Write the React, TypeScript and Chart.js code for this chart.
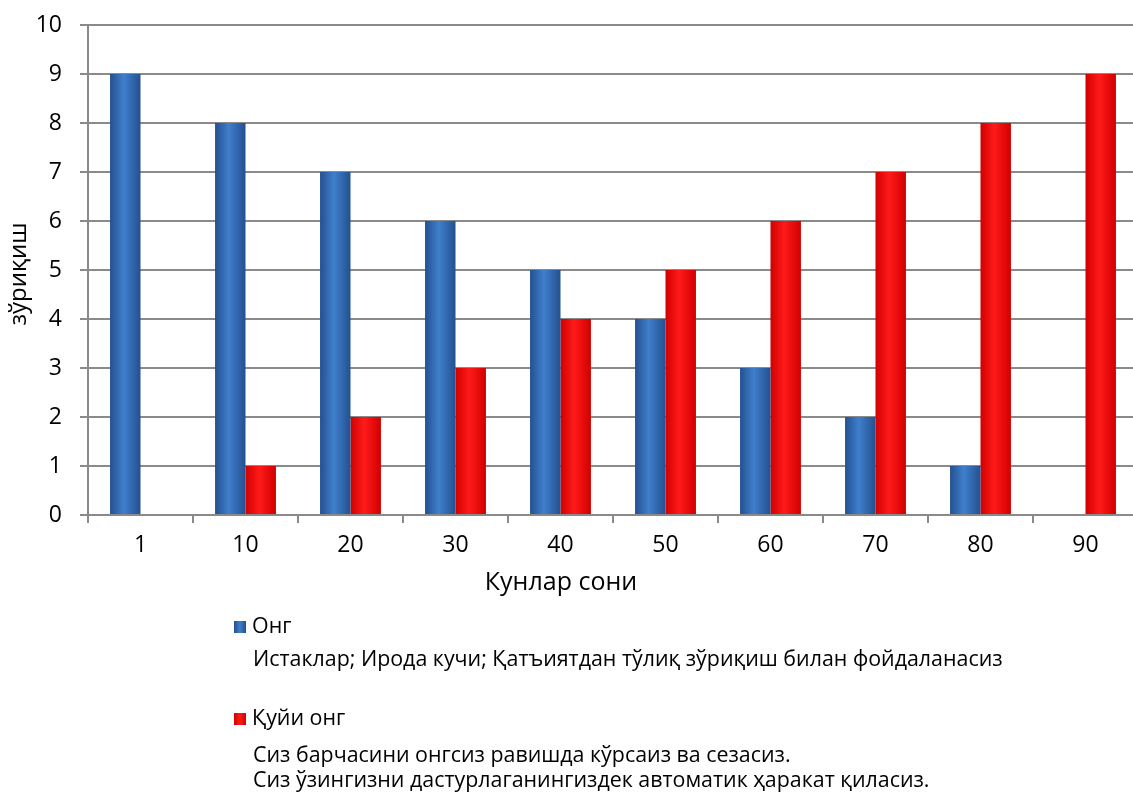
import React, { useEffect, useRef } from "react";
import { Chart, registerables } from "chart.js";

Chart.register(...registerables);

const categories = ["1", "10", "20", "30", "40", "50", "60", "70", "80", "90"];
const ongValues: (number | null)[] = [9, 8, 7, 6, 5, 4, 3, 2, 1, null];
const quyiOngValues: (number | null)[] = [null, 1, 2, 3, 4, 5, 6, 7, 8, 9];
const seriesNames = ["Онг", "Қуйи онг"];
const seriesDescriptions = [
  ["Истаклар; Ирода кучи; Қатъиятдан тўлиқ зўриқиш билан фойдаланасиз"],
  [
    "Сиз барчасини онгсиз равишда кўрсаиз ва сезасиз.",
    "Сиз ўзингизни дастурлаганингиздек автоматик ҳаракат қиласиз.",
  ],
];
const yTitle = "зўриқиш";
const xTitle = "Кунлар сони";

const FONT = "'Open Sans', 'Noto Sans', sans-serif";
const CAT_PCT = 0.58;
const BAR_PCT = 1.0;

const palettes = [
  { edge: "#24508f", mid: "#3f7fcc", solid: "#3469b3" },
  { edge: "#d10000", mid: "#ff1a1a", solid: "#ff0000" },
];

function barGradient(c: any) {
  const pal = palettes[c.datasetIndex] || palettes[0];
  const chart = c.chart;
  const xs = chart.scales && chart.scales.x;
  if (!xs || c.type !== "data" || !isFinite(xs.left) || xs.right <= xs.left) return pal.solid;
  const center = xs.getPixelForValue(c.dataIndex);
  const cw = (xs.right - xs.left) / categories.length;
  const bw = (cw * CAT_PCT * BAR_PCT) / 2;
  const x0 = c.datasetIndex === 0 ? center - bw : center;
  const g = chart.ctx.createLinearGradient(x0, 0, x0 + bw, 0);
  g.addColorStop(0, pal.edge);
  g.addColorStop(0.45, pal.mid);
  g.addColorStop(1, pal.edge);
  return g;
}

const textPlugin = {
  id: "customText",
  afterDraw(chart: any) {
    const ctx = chart.ctx;
    ctx.save();
    ctx.fillStyle = "#000";
    // x title
    ctx.font = `25px ${FONT}`;
    ctx.textAlign = "center";
    ctx.textBaseline = "middle";
    ctx.fillText(xTitle, 561, 583);
    // y title
    ctx.save();
    ctx.translate(19, 274);
    ctx.rotate(-Math.PI / 2);
    ctx.font = `24px ${FONT}`;
    ctx.fillText(yTitle, 0, 0);
    ctx.restore();
    // legend
    const legendX = 234;
    const rows = [
      { y: 627, descY: [660] },
      { y: 719, descY: [756, 781] },
    ];
    ctx.textAlign = "left";
    ctx.font = `21.4px ${FONT}`;
    rows.forEach((r, i) => {
      const pal = palettes[i];
      const g = ctx.createLinearGradient(legendX, 0, legendX + 12, 0);
      g.addColorStop(0, pal.edge);
      g.addColorStop(0.5, pal.mid);
      g.addColorStop(1, pal.edge);
      ctx.fillStyle = g;
      ctx.fillRect(legendX, r.y - 6, 12, 12);
      ctx.fillStyle = "#000";
      ctx.fillText(seriesNames[i], legendX + 18, r.y);
      seriesDescriptions[i].forEach((line, j) => {
        ctx.fillText(line, legendX + 19, r.descY[j]);
      });
    });
    ctx.restore();
  },
};

export default function App() {
  const ref = useRef<HTMLCanvasElement | null>(null);
  useEffect(() => {
    document.body.style.overflow = "hidden";
    const canvas = ref.current!;
    const chart = new Chart(canvas, {
      type: "bar",
      data: {
        labels: categories,
        datasets: [
          {
            label: seriesNames[0],
            data: ongValues,
            backgroundColor: barGradient as any,
            categoryPercentage: CAT_PCT,
            barPercentage: BAR_PCT,
          },
          {
            label: seriesNames[1],
            data: quyiOngValues,
            backgroundColor: barGradient as any,
            categoryPercentage: CAT_PCT,
            barPercentage: BAR_PCT,
          },
        ],
      },
      options: {
        responsive: false,
        animation: false,
        layout: { padding: { left: 0, right: 0, top: 25, bottom: 0 } },
        plugins: { legend: { display: false }, tooltip: { enabled: false } },
        scales: {
          x: {
            afterFit: (s: any) => {
              s.height = 793 - 515;
            },
            grid: {
              offset: true,
              drawOnChartArea: false,
              drawTicks: true,
              tickLength: 8,
              color: "#8a8a8a",
              lineWidth: 2,
            },
            border: { display: true, color: "#8a8a8a", width: 2 },
            ticks: {
              font: { family: FONT, size: 23 },
              color: "#000",
              padding: 9,
              maxRotation: 0,
            },
          },
          y: {
            min: 0,
            max: 10,
            afterFit: (s: any) => {
              s.width = 88;
              s.paddingTop = 0;
              s.paddingBottom = 0;
            },
            grid: {
              color: "#8a8a8a",
              lineWidth: 2,
              tickLength: 8,
            },
            border: { display: true, color: "#8a8a8a", width: 2 },
            ticks: {
              stepSize: 1,
              font: { family: FONT, size: 23 },
              color: "#000",
              padding: 18,
            },
          },
        },
      },
      plugins: [textPlugin],
    });
    return () => chart.destroy();
  }, []);
  return (
    <canvas
      ref={ref}
      width={1138}
      height={793}
      style={{ position: "fixed", left: 0, top: 0, width: 1138, height: 793 }}
    />
  );
}
